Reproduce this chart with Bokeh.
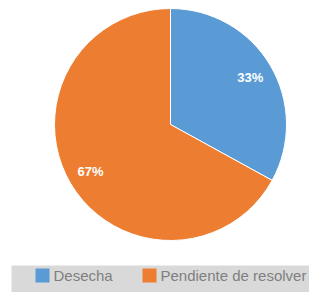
import math
from bokeh.plotting import figure
from bokeh.models import ColumnDataSource, Range1d
from bokeh.core.properties import value
from bokeh.embed import file_html
from bokeh.resources import INLINE

categories = ["Desecha", "Pendiente de resolver"]
values = [33, 67]
labels = ["33%", "67%"]
colors = ["#5b9bd5", "#ed7d31"]

W, H = 309, 292
p = figure(width=W, height=H, output_backend="svg", toolbar_location=None,
           x_range=Range1d(0, W), y_range=Range1d(0, H), min_border=0)
p.axis.visible = False
p.grid.visible = False
p.outline_line_color = None
p.background_fill_color = "white"
p.border_fill_color = "white"

cx, cy, R = 170, H - 124, 116
total = sum(values)
starts, ends, lx, ly = [], [], [], []
a = math.pi / 2
for v in values:
    span = 2 * math.pi * v / total
    end = a
    start = a - span
    starts.append(start)
    ends.append(end)
    mid = (start + end) / 2
    lx.append(cx + 0.8 * R * math.cos(mid))
    ly.append(cy + 0.8 * R * math.sin(mid))
    a = start

src = ColumnDataSource(dict(start=starts, end=ends, color=colors, lx=lx, ly=ly, lab=labels))
p.wedge(x=cx, y=cy, radius=R, start_angle="start", end_angle="end",
        fill_color="color", line_color="white", line_width=1, source=src)
p.text(x="lx", y="ly", text="lab", source=src, text_color="white",
       text_font=value("Liberation Sans"), text_font_style="bold",
       text_font_size="13px", text_align="center", text_baseline="middle")

# legend band
p.quad(left=[11], right=[W], bottom=[0], top=[H - 265], fill_color="#d9d9d9", line_color=None)
sq_x = [42, 149]
leg = ColumnDataSource(dict(x=sq_x, tx=[x + 11 for x in sq_x], c=colors, t=categories))
p.rect(x="x", y=H - 275, width=14, height=14, fill_color="c", line_color=None, source=leg)
p.text(x="tx", y=H - 275, text="t", source=leg, text_color="#7f7f7f",
       text_font=value("Liberation Sans"), text_font_size="15px",
       text_baseline="middle", text_align="left")

open("out.html", "w").write(file_html(p, INLINE))
